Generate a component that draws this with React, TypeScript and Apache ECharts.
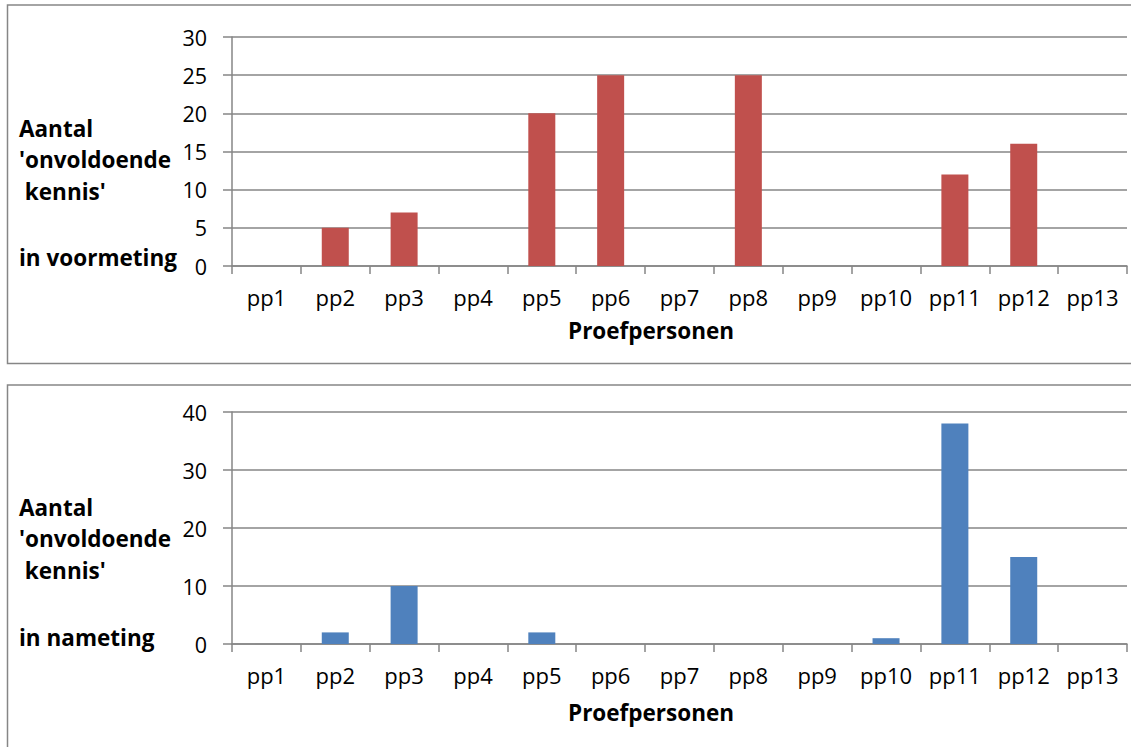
import React, { useEffect, useRef } from "react";
import * as echarts from "echarts";

const categories = ["pp1", "pp2", "pp3", "pp4", "pp5", "pp6", "pp7", "pp8", "pp9", "pp10", "pp11", "pp12", "pp13"];
const voormeting = [0, 5, 7, 0, 20, 25, 0, 25, 0, 0, 12, 16, 0];
const nameting = [0, 2, 10, 0, 2, 0, 0, 0, 0, 1, 38, 15, 0];
const topLabelLines = ["Aantal", "'onvoldoende", " kennis'", "in voormeting"];
const bottomLabelLines = ["Aantal", "'onvoldoende", " kennis'", "in nameting"];
const xName = "Proefpersonen";

const GRAY = "#868686";
const FONT = "'Open Sans', sans-serif";

export default function App() {
  const ref = useRef<HTMLDivElement>(null);
  useEffect(() => {
    if (!ref.current) return;
    const chart = echarts.init(ref.current, null, { renderer: "svg" });
    const xAxisCommon = {
      type: "category" as const,
      data: categories,
      boundaryGap: true,
      axisLine: { lineStyle: { color: GRAY, width: 1.5 } },
      axisTick: { show: true, length: 8, alignWithLabel: false, lineStyle: { color: GRAY, width: 1.5 } },
      axisLabel: { color: "#000", fontSize: 22, fontFamily: FONT, margin: 20, interval: 0 },
    };
    const yAxisCommon = {
      type: "value" as const,
      axisLine: { show: true, lineStyle: { color: GRAY, width: 1.5 } },
      axisTick: { show: true, length: 9, lineStyle: { color: GRAY, width: 1.5 } },
      splitLine: { show: true, lineStyle: { color: GRAY, width: 1.5 } },
      axisLabel: { color: "#000", fontSize: 21.5, fontFamily: FONT, margin: 25 },
    };
    const textEl = (x: number, y: number, text: string) => ({
      type: "text",
      x,
      y,
      style: { text, fill: "#000", font: `bold 22.5px ${FONT}`, textVerticalAlign: "middle" },
    });
    const topYs = [128, 159, 191, 257];
    const botYs = [507, 538, 570, 637];
    chart.setOption({
      animation: false,
      grid: [
        { left: 232, right: 4, top: 37, height: 229 },
        { left: 232, right: 4, top: 412, height: 232 },
      ],
      xAxis: [
        { ...xAxisCommon, gridIndex: 0 },
        { ...xAxisCommon, gridIndex: 1 },
      ],
      yAxis: [
        { ...yAxisCommon, gridIndex: 0, min: 0, max: 30, interval: 5 },
        { ...yAxisCommon, gridIndex: 1, min: 0, max: 40, interval: 10 },
      ],
      series: [
        {
          type: "bar",
          xAxisIndex: 0,
          yAxisIndex: 0,
          data: voormeting,
          barWidth: 27,
          itemStyle: { color: "#C0504D" },
        },
        {
          type: "bar",
          xAxisIndex: 1,
          yAxisIndex: 1,
          data: nameting,
          barWidth: 27,
          itemStyle: { color: "#4F81BD" },
        },
      ],
      graphic: [
        {
          type: "rect",
          shape: { x: 7.5, y: 5, width: 1140, height: 358.5 },
          style: { fill: "none", stroke: GRAY, lineWidth: 1.5 },
          silent: true,
        },
        {
          type: "rect",
          shape: { x: 7.5, y: 385, width: 1140, height: 380 },
          style: { fill: "none", stroke: GRAY, lineWidth: 1.5 },
          silent: true,
        },
        ...topLabelLines.map((t, i) => textEl(19, topYs[i], t)),
        ...bottomLabelLines.map((t, i) => textEl(19, botYs[i], t)),
        {
          type: "text",
          x: 651,
          y: 330,
          style: { text: xName, fill: "#000", font: `bold 22.5px ${FONT}`, textAlign: "center", textVerticalAlign: "middle" },
        },
        {
          type: "text",
          x: 651,
          y: 712,
          style: { text: xName, fill: "#000", font: `bold 22.5px ${FONT}`, textAlign: "center", textVerticalAlign: "middle" },
        },
      ],
    });
    return () => chart.dispose();
  }, []);
  return <div ref={ref} style={{ position: "fixed", left: 0, top: 0, width: 1131, height: 747, background: "#fff" }} />;
}
